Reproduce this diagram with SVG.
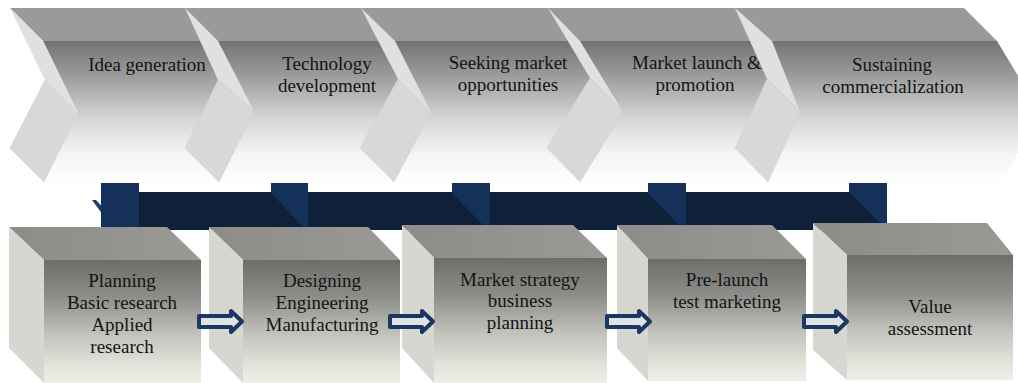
<svg xmlns="http://www.w3.org/2000/svg" width="1018" height="383" viewBox="0 0 1018 383">
<defs>
<linearGradient id="bandFront" gradientUnits="userSpaceOnUse" x1="0" y1="41" x2="0" y2="182">
<stop offset="0" stop-color="#737373"/>
<stop offset="0.25" stop-color="#9c9c9c"/>
<stop offset="0.55" stop-color="#d6d6d6"/>
<stop offset="0.8" stop-color="#f4f4f4"/>
<stop offset="1" stop-color="#ffffff"/>
</linearGradient>
<linearGradient id="boxFront" x1="0" y1="0" x2="0" y2="1">
<stop offset="0" stop-color="#6c6e68"/>
<stop offset="0.3" stop-color="#8d8e89"/>
<stop offset="0.6" stop-color="#c2c2bc"/>
<stop offset="0.85" stop-color="#e2e1da"/>
<stop offset="1" stop-color="#efeee7"/>
</linearGradient>
<linearGradient id="boxTop" x1="0" y1="0" x2="1" y2="0">
<stop offset="0" stop-color="#8d8c88"/>
<stop offset="1" stop-color="#9a9995"/>
</linearGradient>
</defs>
<style>
.topface{fill:#9a9a9a}
.front{fill:url(#bandFront)}
.sideU{fill:#e0e0e0}
.sideL{fill:#d8d8d8;stroke:#cfcfcf;stroke-width:0.5}
.bar{fill:#0f2039}
.tab{fill:#15315a}
.bt{fill:url(#boxTop)}
.bs{fill:#d7d7d1}
.bf{fill:url(#boxFront)}
.lbl{font-family:"Liberation Serif","Times New Roman",serif;font-size:19px;fill:#141414;text-anchor:middle}
.arr{fill:#e2e3e5;stroke:#1b3862;stroke-width:4;stroke-linejoin:round}
</style>

<g id="band">
<polygon class="topface" points="10,8 964,8 997,41 43,41"/>
<polygon class="front" points="43,41 997,41 1040,112 1002,182 44,182 78,113"/>
</g>

<g id="stage1">
<polygon class="sideU" points="10,8 43,41 78,113 45,80"/>
<polygon class="sideL" points="45,80 78,113 44,182 10,148"/>
<text class="lbl" x="147" y="71">Idea generation</text>
</g>
<g id="stage2">
<polygon class="sideU" points="185,8 218,41 254,111 218,80"/>
<polygon class="sideL" points="218,80 254,111 219,182 185,148"/>
<text class="lbl" x="327" y="70">Technology</text>
<text class="lbl" x="327" y="92">development</text>
</g>
<g id="stage3">
<polygon class="sideU" points="361,8 395,41 431,112 398,79"/>
<polygon class="sideL" points="398,79 431,112 394,182 360,148"/>
<text class="lbl" x="508" y="69">Seeking market</text>
<text class="lbl" x="508" y="91">opportunities</text>
</g>
<g id="stage4">
<polygon class="sideU" points="548,8 580,41 623,112 590,78"/>
<polygon class="sideL" points="590,78 623,112 580,182 547,148"/>
<text class="lbl" x="697" y="69">Market launch &amp;</text>
<text class="lbl" x="695" y="91">promotion</text>
</g>
<g id="stage5">
<polygon class="sideU" points="735,8 772,41 800,112 767,79"/>
<polygon class="sideL" points="767,79 800,112 768,182 735,148"/>
<text class="lbl" x="892" y="71">Sustaining</text>
<text class="lbl" x="893" y="93">commercialization</text>
</g>

<g id="connectors">
<rect class="bar" x="101" y="192" width="786" height="38"/>
<polygon fill="#1e3d6b" points="92,200 96,200 121,227 112,227"/>
<polygon class="tab" points="101,183 139,183 139,227 101,227"/>
<polygon class="tab" points="271,183 308,183 308,227 303,227 271,193"/>
<polygon class="tab" points="452,183 490,183 490,227 485,227 452,193"/>
<polygon class="tab" points="648,183 686,183 686,227 681,227 648,193"/>
<polygon class="tab" points="849,183 887,183 887,223 880,223 849,192"/>
</g>

<g id="box1">
<polygon class="bt" points="9,227 167,227 201,260 44,260"/>
<polygon class="bs" points="9,227 44,260 44,383 9,348"/>
<rect class="bf" x="44" y="260" width="157" height="123"/>
<text class="lbl" x="122" y="287">Planning</text>
<text class="lbl" x="122" y="309">Basic research</text>
<text class="lbl" x="122" y="331">Applied</text>
<text class="lbl" x="122" y="353">research</text>
</g>
<g id="box2">
<polygon class="bt" points="209,227 368,227 400,260 243,260"/>
<polygon class="bs" points="209,227 243,260 243,383 209,348"/>
<rect class="bf" x="243" y="260" width="157" height="123"/>
<text class="lbl" x="322" y="287">Designing</text>
<text class="lbl" x="322" y="309">Engineering</text>
<text class="lbl" x="322" y="331">Manufacturing</text>
</g>
<g id="box3">
<polygon class="bt" points="402,225 573,225 607,258 434,258"/>
<polygon class="bs" points="402,225 434,258 434,383 402,348"/>
<rect class="bf" x="434" y="258" width="173" height="125"/>
<text class="lbl" x="520" y="286">Market strategy</text>
<text class="lbl" x="520" y="307">business</text>
<text class="lbl" x="520" y="329">planning</text>
</g>
<g id="box4">
<polygon class="bt" points="617,225 772,225 806,259 648,259"/>
<polygon class="bs" points="617,225 648,259 648,381 617,348"/>
<rect class="bf" x="648" y="259" width="158" height="122"/>
<text class="lbl" x="727" y="286">Pre-launch</text>
<text class="lbl" x="727" y="308">test marketing</text>
</g>
<g id="box5">
<polygon class="bt" points="813,223 987,223 1013,255 847,255"/>
<polygon class="bs" points="813,223 847,255 847,380 813,350"/>
<rect class="bf" x="847" y="255" width="166" height="125"/>
<text class="lbl" x="930" y="313">Value</text>
<text class="lbl" x="930" y="335">assessment</text>
</g>

<g id="arrows">
<path class="arr" d="M199,316 H231 V311 L242,321.5 L231,332 V327 H199 Z"/>
<path class="arr" d="M390,316 H422 V311 L433,321.5 L422,332 V327 H390 Z"/>
<path class="arr" d="M607,316 H639 V311 L650,321.5 L639,332 V327 H607 Z"/>
<path class="arr" d="M804,316 H836 V311 L847,321.5 L836,332 V327 H804 Z"/>
</g>
</svg>
